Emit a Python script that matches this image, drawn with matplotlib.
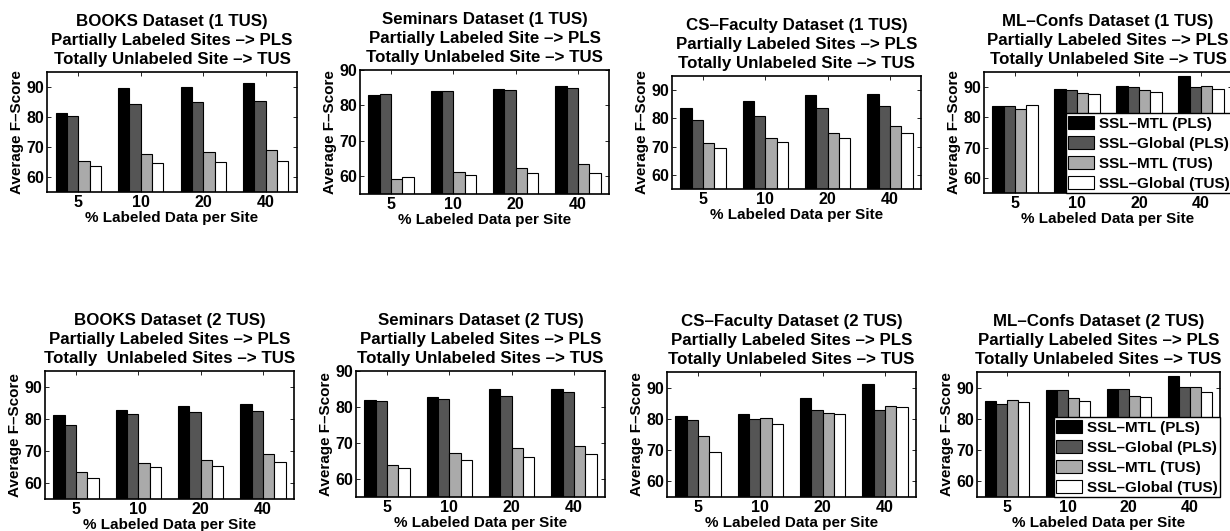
import numpy as np
import matplotlib
matplotlib.use("Agg")
import matplotlib.pyplot as plt

# 공통 설정
plt.rcParams['font.family'] = ['Liberation Sans', 'DejaVu Sans']
plt.rcParams['font.weight'] = 'bold'
plt.rcParams['axes.titleweight'] = 'bold'
plt.rcParams['axes.labelweight'] = 'bold'

pct_labels = ["5", "10", "20", "40"]
series_names = ["SSL–MTL (PLS)", "SSL–Global (PLS)", "SSL–MTL (TUS)", "SSL–Global (TUS)"]
bar_colors = ["#000000", "#555555", "#aaaaaa", "#ffffff"]

# 데이터 (행 = 5, 10, 20, 40 % / 열 = 시리즈 순서)
books_1tus = [[81.5, 80.5, 65.4, 63.6],
              [89.8, 84.2, 67.7, 64.7],
              [90.1, 85.0, 68.2, 65.1],
              [91.2, 85.2, 68.9, 65.4]]
seminars_1tus = [[83.0, 83.3, 59.1, 59.8],
                 [84.2, 84.0, 61.2, 60.4],
                 [84.7, 84.3, 62.4, 60.8],
                 [85.4, 85.0, 63.4, 61.0]]
csfaculty_1tus = [[83.8, 79.6, 71.4, 69.6],
                  [86.0, 80.9, 73.2, 71.8],
                  [88.4, 83.8, 74.9, 73.2],
                  [88.8, 84.5, 77.2, 74.9]]
mlconfs_1tus = [[83.8, 83.8, 82.7, 84.1],
                [89.5, 89.2, 88.1, 87.8],
                [90.4, 90.1, 89.2, 88.5],
                [93.6, 90.1, 90.3, 89.5]]
books_2tus = [[81.2, 78.1, 63.5, 61.5],
              [82.7, 81.7, 66.1, 65.1],
              [84.2, 82.3, 67.3, 65.3],
              [84.7, 82.4, 69.2, 66.5]]
seminars_2tus = [[81.9, 81.7, 64.0, 63.1],
                 [82.7, 82.3, 67.1, 65.4],
                 [84.9, 83.0, 68.5, 66.0],
                 [85.1, 84.3, 69.2, 66.9]]
csfaculty_2tus = [[81.0, 79.6, 74.6, 69.3],
                  [81.7, 80.0, 80.4, 78.5],
                  [86.8, 82.7, 82.0, 81.6],
                  [91.1, 83.0, 84.1, 83.9]]
mlconfs_2tus = [[85.6, 84.7, 86.1, 85.5],
                [89.3, 89.1, 86.7, 85.6],
                [89.7, 89.7, 87.4, 87.0],
                [93.8, 90.3, 90.2, 88.7]]

titles = [
    "BOOKS Dataset (1 TUS)\nPartially Labeled Sites –> PLS\nTotally Unlabeled Site –> TUS",
    "Seminars Dataset (1 TUS)\nPartially Labeled Site –> PLS\nTotally Unlabeled Site –> TUS",
    "CS–Faculty Dataset (1 TUS)\nPartially Labeled Sites –> PLS\nTotally Unlabeled Site –> TUS",
    "ML–Confs Dataset (1 TUS)\nPartially Labeled Sites –> PLS\nTotally Unlabeled Site –> TUS",
    "BOOKS Dataset (2 TUS)\nPartially Labeled Sites –> PLS\nTotally  Unlabeled Sites –> TUS",
    "Seminars Dataset (2 TUS)\nPartially Labeled Sites –> PLS\nTotally Unlabeled Sites –> TUS",
    "CS–Faculty Dataset (2 TUS)\nPartially Labeled Sites –> PLS\nTotally Unlabeled Sites –> TUS",
    "ML–Confs Dataset (2 TUS)\nPartially Labeled Sites –> PLS\nTotally Unlabeled Sites –> TUS",
]
panel_data = [books_1tus, seminars_1tus, csfaculty_1tus, mlconfs_1tus,
              books_2tus, seminars_2tus, csfaculty_2tus, mlconfs_2tus]
y_tops = [95, 90, 95, 95, 95, 90, 95, 95]

# 축 위치 (픽셀: left, right, top, bottom)
W, H = 1230, 531
boxes = [(47, 297, 72, 192), (360, 609, 70, 194), (672, 921, 76, 189), (984, 1232, 72, 193),
         (45, 294, 371, 499), (356, 605, 371, 497), (667, 916, 372, 497), (977, 1220, 372, 497)]

fig = plt.figure(figsize=(W / 100, H / 100), dpi=100)

group_w = 4 / 5.5
bar_w = group_w / 4
x = np.arange(1, 5)

for i, (data, title, ytop, box) in enumerate(zip(panel_data, titles, y_tops, boxes)):
    l, r, t, b = box
    ax = fig.add_axes([l / W, 1 - b / H, (r - l) / W, (b - t) / H])
    vals = np.array(data)
    for k in range(4):
        ax.bar(x + (k - 1.5) * bar_w, vals[:, k], width=bar_w, bottom=0,
               color=bar_colors[k], edgecolor="black", linewidth=0.8,
               label=series_names[k])
    ax.set_xlim(0.5, 4.5)
    ax.set_ylim(55, ytop)
    ax.set_xticks(x)
    ax.set_xticklabels(pct_labels)
    ax.set_yticks([60, 70, 80, 90])
    ax.tick_params(direction="in", top=True, right=True, labelsize=11.5,
                   length=3, width=0.6, pad=2)
    for s in ax.spines.values():
        s.set_linewidth(1.2)
    ax.set_xlabel("% Labeled Data per Site", fontsize=11, labelpad=1)
    ax.set_ylabel("Average F–Score", fontsize=11, labelpad=2)
    ax.set_title(title, fontsize=12.2, pad=6, linespacing=1.32)
    if i in (3, 7):
        leg = ax.legend(loc="lower right", fontsize=11, fancybox=False,
                        edgecolor="black", framealpha=1, borderaxespad=0,
                        borderpad=0.15, handlelength=1.7, handleheight=1.0,
                        labelspacing=0.32, handletextpad=0.3)
        leg.get_frame().set_linewidth(1.0)

fig.savefig("out.png", dpi=100)
